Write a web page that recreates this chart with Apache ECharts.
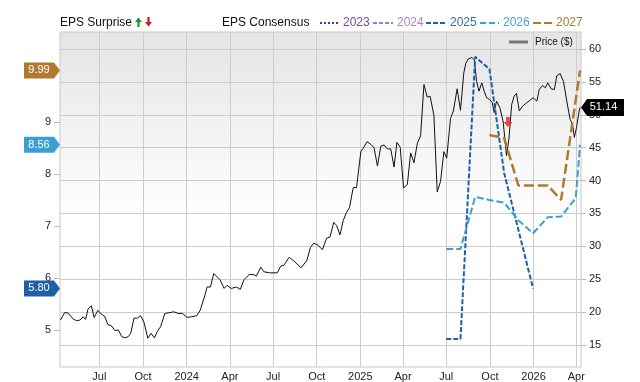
<!DOCTYPE html>
<html><head><meta charset="utf-8">
<script src="https://cdn.jsdelivr.net/npm/echarts@6/dist/echarts.min.js"></script>
<style>html,body{margin:0;padding:0;background:#fff}#c{width:640px;height:382px}</style>
</head><body><div id="c"></div>
<script>
const priceDates = [
'2023-04-10','2023-04-19','2023-04-26','2023-05-07','2023-05-14','2023-05-21','2023-05-28','2023-06-02','2023-06-07','2023-06-14','2023-06-20','2023-06-28','2023-07-05','2023-07-12','2023-07-19','2023-07-26','2023-08-03','2023-08-10','2023-08-17','2023-08-24','2023-08-31','2023-09-05','2023-09-12','2023-09-19','2023-09-26','2023-10-03','2023-10-11','2023-10-18','2023-10-25','2023-10-31','2023-11-07','2023-11-16','2023-11-25','2023-12-05','2023-12-14','2023-12-23',
'2024-01-02','2024-01-11','2024-01-22','2024-01-29','2024-02-08','2024-02-13','2024-02-20','2024-02-27','2024-03-11','2024-03-20','2024-03-26','2024-04-04','2024-04-15','2024-04-23','2024-05-01','2024-05-12','2024-05-20','2024-05-27','2024-06-05','2024-06-12','2024-06-24','2024-07-10','2024-07-17','2024-07-24','2024-08-04','2024-08-16','2024-08-29','2024-09-10','2024-09-18','2024-09-25','2024-10-04','2024-10-13','2024-10-22','2024-10-29','2024-11-06','2024-11-12','2024-11-19','2024-11-26','2024-12-03','2024-12-09','2024-12-17','2024-12-24',
'2025-01-02','2025-01-07','2025-01-15','2025-01-23','2025-01-30','2025-02-06','2025-02-13','2025-02-20','2025-02-27','2025-03-06','2025-03-13','2025-03-19','2025-03-26','2025-04-02','2025-04-10','2025-04-17','2025-04-24','2025-05-01','2025-05-08','2025-05-15','2025-05-22','2025-05-28','2025-06-05','2025-06-12','2025-06-19','2025-06-26','2025-07-02','2025-07-10','2025-07-16','2025-07-24','2025-07-31','2025-08-07','2025-08-11','2025-08-16','2025-08-24','2025-08-29','2025-09-03','2025-09-08','2025-09-14','2025-09-19','2025-09-24','2025-09-30','2025-10-06','2025-10-10','2025-10-15','2025-10-22','2025-10-29','2025-11-05','2025-11-10','2025-11-16','2025-11-21','2025-11-26','2025-12-02','2025-12-09','2025-12-16','2025-12-25','2025-12-31',
'2026-01-08','2026-01-13','2026-01-20','2026-01-26','2026-01-31','2026-02-07','2026-02-14','2026-02-19','2026-02-26','2026-03-05','2026-03-12','2026-03-19','2026-03-24','2026-03-28','2026-04-02','2026-04-07','2026-04-09'
];
const priceValues = [
18.78,19.94,19.83,18.93,18.69,18.78,19.29,18.88,20.44,20.95,19.18,20.28,19.68,19.38,18.08,17.93,17.18,17.27,16.27,16.06,16.27,16.77,19.08,19.08,19.44,18.43,16.02,16.77,16.06,17.03,17.78,19.79,19.89,20.04,19.79,19.79,
19.18,19.29,19.44,20.19,22.46,23.81,23.81,25.86,24.96,23.60,24.05,23.60,23.81,23.45,24.96,25.71,25.71,25.47,26.83,26.12,25.97,25.97,26.98,27.13,28.34,27.63,26.72,27.82,29.84,30.49,30.15,29.48,31.25,31.40,33.66,33.16,31.74,33.96,35.17,35.88,38.94,38.94,
44.41,44.92,45.92,45.53,44.97,42.21,45.22,45.42,44.82,44.82,42.06,45.83,45.07,38.89,39.39,44.21,42.71,45.68,46.82,54.62,52.70,52.85,49.94,38.29,39.89,44.41,43.41,49.45,50.59,53.97,50.70,56.38,57.80,58.49,58.73,58.39,55.11,53.61,54.87,53.61,52.61,52.36,51.86,50.35,52.10,51.10,48.93,43.81,46.32,51.60,52.85,53.26,50.59,51.35,51.75,52.25,52.61,
52.10,53.86,54.47,54.12,54.87,53.97,53.86,55.97,56.28,55.11,52.10,49.34,48.59,46.58,48.24,50.59,51.14
];
const eps2025Dates = ['2025-07-01','2025-07-31','2025-08-31','2025-09-30','2025-10-31','2025-12-31'];
const eps2025Values = [4.83,4.83,10.25,10.02,8.02,5.80];
const eps2026Dates = ['2025-07-01','2025-07-31','2025-08-31','2025-09-30','2025-10-31','2025-11-30','2025-12-31','2026-01-31','2026-02-28','2026-03-31','2026-04-09'];
const eps2026Values = [6.56,6.56,7.56,7.50,7.45,7.11,6.86,7.17,7.18,7.54,8.56];
const eps2027Dates = ['2025-09-30','2025-10-31','2025-11-30','2025-12-31','2026-01-31','2026-02-28','2026-04-09'];
const eps2027Values = [8.75,8.69,7.78,7.78,7.78,7.50,9.99];
const surpriseDates = ['2025-11-08'];
const surpriseValues = [48.9];
const lastPrice = 51.14;
const xMin = '2023-04-09', xMax = '2026-04-11';
const xTickDates = ['2023-07-01','2023-10-01','2024-01-01','2024-04-01','2024-07-01','2024-10-01','2025-01-01','2025-04-01','2025-07-01','2025-10-01','2026-01-01','2026-04-01'];
const priceTicks = [15,20,25,30,35,40,45,50,55,60];
const epsTicks = [5,6,7,8,9];
const monthNames = ['Jan','Feb','Mar','Apr','May','Jun','Jul','Aug','Sep','Oct','Nov','Dec'];
const legendYears = ['2023','2024','2025','2026','2027'];

const C2023='#5e2d87', C2024='#a07cc8', C2025='#1f5fa8', C2026='#3aa0d4', C2027='#b07a2e';
const FONT='Liberation Sans';

function ts(s){const p=s.split('-').map(Number);return new Date(p[0],p[1]-1,p[2]).getTime();}
function pairs(ds,vs){return ds.map((d,i)=>[ts(d),vs[i]]);}

function badgeLeft(val,color){
  return {coord:[ts(xMin),val],value:val,symbol:'path://M0,0 L30,0 L36,8 L30,16 L0,16 Z',symbolSize:[36,16],symbolOffset:[-18,0],
    itemStyle:{color:color},label:{show:true,position:'inside',formatter:val.toFixed(2),color:'#fff',fontSize:11,fontFamily:FONT,offset:[-3,0]}};
}

const chart = echarts.init(document.getElementById('c'),null,{renderer:'canvas'});
const legendGraphics = [
  {type:'text',style:{text:'EPS Surprise',x:60,y:23,fill:'#111',fontSize:12,fontFamily:FONT,verticalAlign:'middle'}},
  {type:'polygon',shape:{points:[[135,22],[138.5,17.5],[142,22],[139.6,22],[139.6,27],[137.4,27],[137.4,22]]},style:{fill:'#1a9a2a'}},
  {type:'polygon',shape:{points:[[145,22],[148.5,26.5],[152,22],[149.6,22],[149.6,17],[147.4,17],[147.4,22]]},style:{fill:'#e01010'}},
  {type:'text',style:{text:'EPS Consensus',x:222,y:23,fill:'#111',fontSize:12,fontFamily:FONT,verticalAlign:'middle'}},
  {type:'line',shape:{x1:320,y1:23,x2:339,y2:23},style:{stroke:C2023,lineWidth:2,lineDash:[2,2]}},
  {type:'text',style:{text:legendYears[0],x:343,y:23,fill:'#7a4a9a',fontSize:12,fontFamily:FONT,verticalAlign:'middle'}},
  {type:'line',shape:{x1:373,y1:23,x2:393,y2:23},style:{stroke:C2024,lineWidth:2,lineDash:[4,2]}},
  {type:'text',style:{text:legendYears[1],x:397,y:23,fill:'#a585c8',fontSize:12,fontFamily:FONT,verticalAlign:'middle'}},
  {type:'line',shape:{x1:426,y1:23,x2:447,y2:23},style:{stroke:C2025,lineWidth:2,lineDash:[5,2]}},
  {type:'text',style:{text:legendYears[2],x:450,y:23,fill:'#3a6aaa',fontSize:12,fontFamily:FONT,verticalAlign:'middle'}},
  {type:'line',shape:{x1:480,y1:23,x2:499,y2:23},style:{stroke:C2026,lineWidth:2,lineDash:[6,3]}},
  {type:'text',style:{text:legendYears[3],x:503,y:23,fill:'#4aa3d0',fontSize:12,fontFamily:FONT,verticalAlign:'middle'}},
  {type:'line',shape:{x1:533,y1:23,x2:553,y2:23},style:{stroke:C2027,lineWidth:2,lineDash:[8,3]}},
  {type:'text',style:{text:legendYears[4],x:556,y:23,fill:'#a87a3a',fontSize:12,fontFamily:FONT,verticalAlign:'middle'}},
  {type:'line',shape:{x1:509,y1:42,x2:528,y2:42},style:{stroke:'#777',lineWidth:3},z:100},
  {type:'text',style:{text:'Price ($)',x:535,y:42,fill:'#111',fontSize:10,fontFamily:FONT,verticalAlign:'middle'},z:100}
];

chart.setOption({
  animation:false,
  textStyle:{fontFamily:FONT},
  grid:{left:60,right:59,top:32,bottom:12,show:true,borderColor:'#c8c8c8',borderWidth:1,
    backgroundColor:{type:'linear',x:0,y:0,x2:0,y2:1,colorStops:[{offset:0,color:'#e4e4e4'},{offset:0.55,color:'#ffffff'},{offset:1,color:'#ffffff'}]}},
  xAxis:{type:'value',min:ts(xMin),max:ts(xMax),
    axisLine:{show:false},
    axisTick:{show:false,customValues:xTickDates.map(ts)},
    splitLine:{show:true,lineStyle:{color:'#cccccc',width:1}},
    axisLabel:{customValues:xTickDates.map(ts),color:'#222',fontSize:11,fontFamily:FONT,margin:4,
      formatter:function(v){const d=new Date(v);return d.getMonth()===0?String(d.getFullYear()):monthNames[d.getMonth()];}}
  },
  yAxis:[
    {type:'value',position:'left',min:4.290,max:10.728,
      axisLine:{show:false},splitLine:{show:false},
      axisTick:{show:true,length:6,lineStyle:{color:'#bbbbbb'},customValues:epsTicks},
      axisLabel:{customValues:epsTicks,color:'#222',fontSize:11,fontFamily:FONT,margin:9}},
    {type:'value',position:'right',min:11.64,max:62.61,
      axisLine:{show:false},
      splitLine:{show:true,lineStyle:{color:'#cccccc',width:1}},
      axisTick:{show:true,length:5,lineStyle:{color:'#bbbbbb'},customValues:priceTicks},
      axisLabel:{customValues:priceTicks,color:'#222',fontSize:11,fontFamily:FONT,margin:8}}
  ],
  graphic:legendGraphics,
  series:[
    {name:'Price ($)',type:'line',yAxisIndex:1,data:pairs(priceDates,priceValues),showSymbol:false,symbol:'none',
      lineStyle:{color:'#111',width:1},z:3,
      markPoint:{silent:true,data:[{coord:[ts(xMax),lastPrice],value:lastPrice,symbol:'path://M0,8.5 L6,0 L43,0 L43,17 L6,17 Z',symbolSize:[43,17],symbolOffset:[21.5,0],
        itemStyle:{color:'#000'},label:{show:true,position:'inside',formatter:lastPrice.toFixed(2),color:'#fff',fontSize:11,fontFamily:FONT,offset:[1,0]}}]}},
    {name:'2025',type:'line',yAxisIndex:0,data:pairs(eps2025Dates,eps2025Values),showSymbol:false,symbol:'none',
      lineStyle:{color:C2025,width:2,type:[5,2]},z:4,
      markPoint:{silent:true,data:[badgeLeft(5.80,C2025)]}},
    {name:'2026',type:'line',yAxisIndex:0,data:pairs(eps2026Dates,eps2026Values),showSymbol:false,symbol:'none',
      lineStyle:{color:C2026,width:2,type:[7,3]},z:4,
      markPoint:{silent:true,data:[badgeLeft(8.56,C2026)]}},
    {name:'2027',type:'line',yAxisIndex:0,data:pairs(eps2027Dates,eps2027Values),showSymbol:false,symbol:'none',
      lineStyle:{color:C2027,width:2.5,type:[10,4]},z:4,
      markPoint:{silent:true,data:[badgeLeft(9.99,C2027)]}},
    {name:'EPS Surprise',type:'scatter',yAxisIndex:1,data:pairs(surpriseDates,surpriseValues),
      symbol:'path://M3,0 L7,0 L7,5 L10,5 L5,10 L0,5 L3,5 Z',symbolSize:[9,10],itemStyle:{color:'#e8141c'},z:5}
  ]
});
</script></body></html>
